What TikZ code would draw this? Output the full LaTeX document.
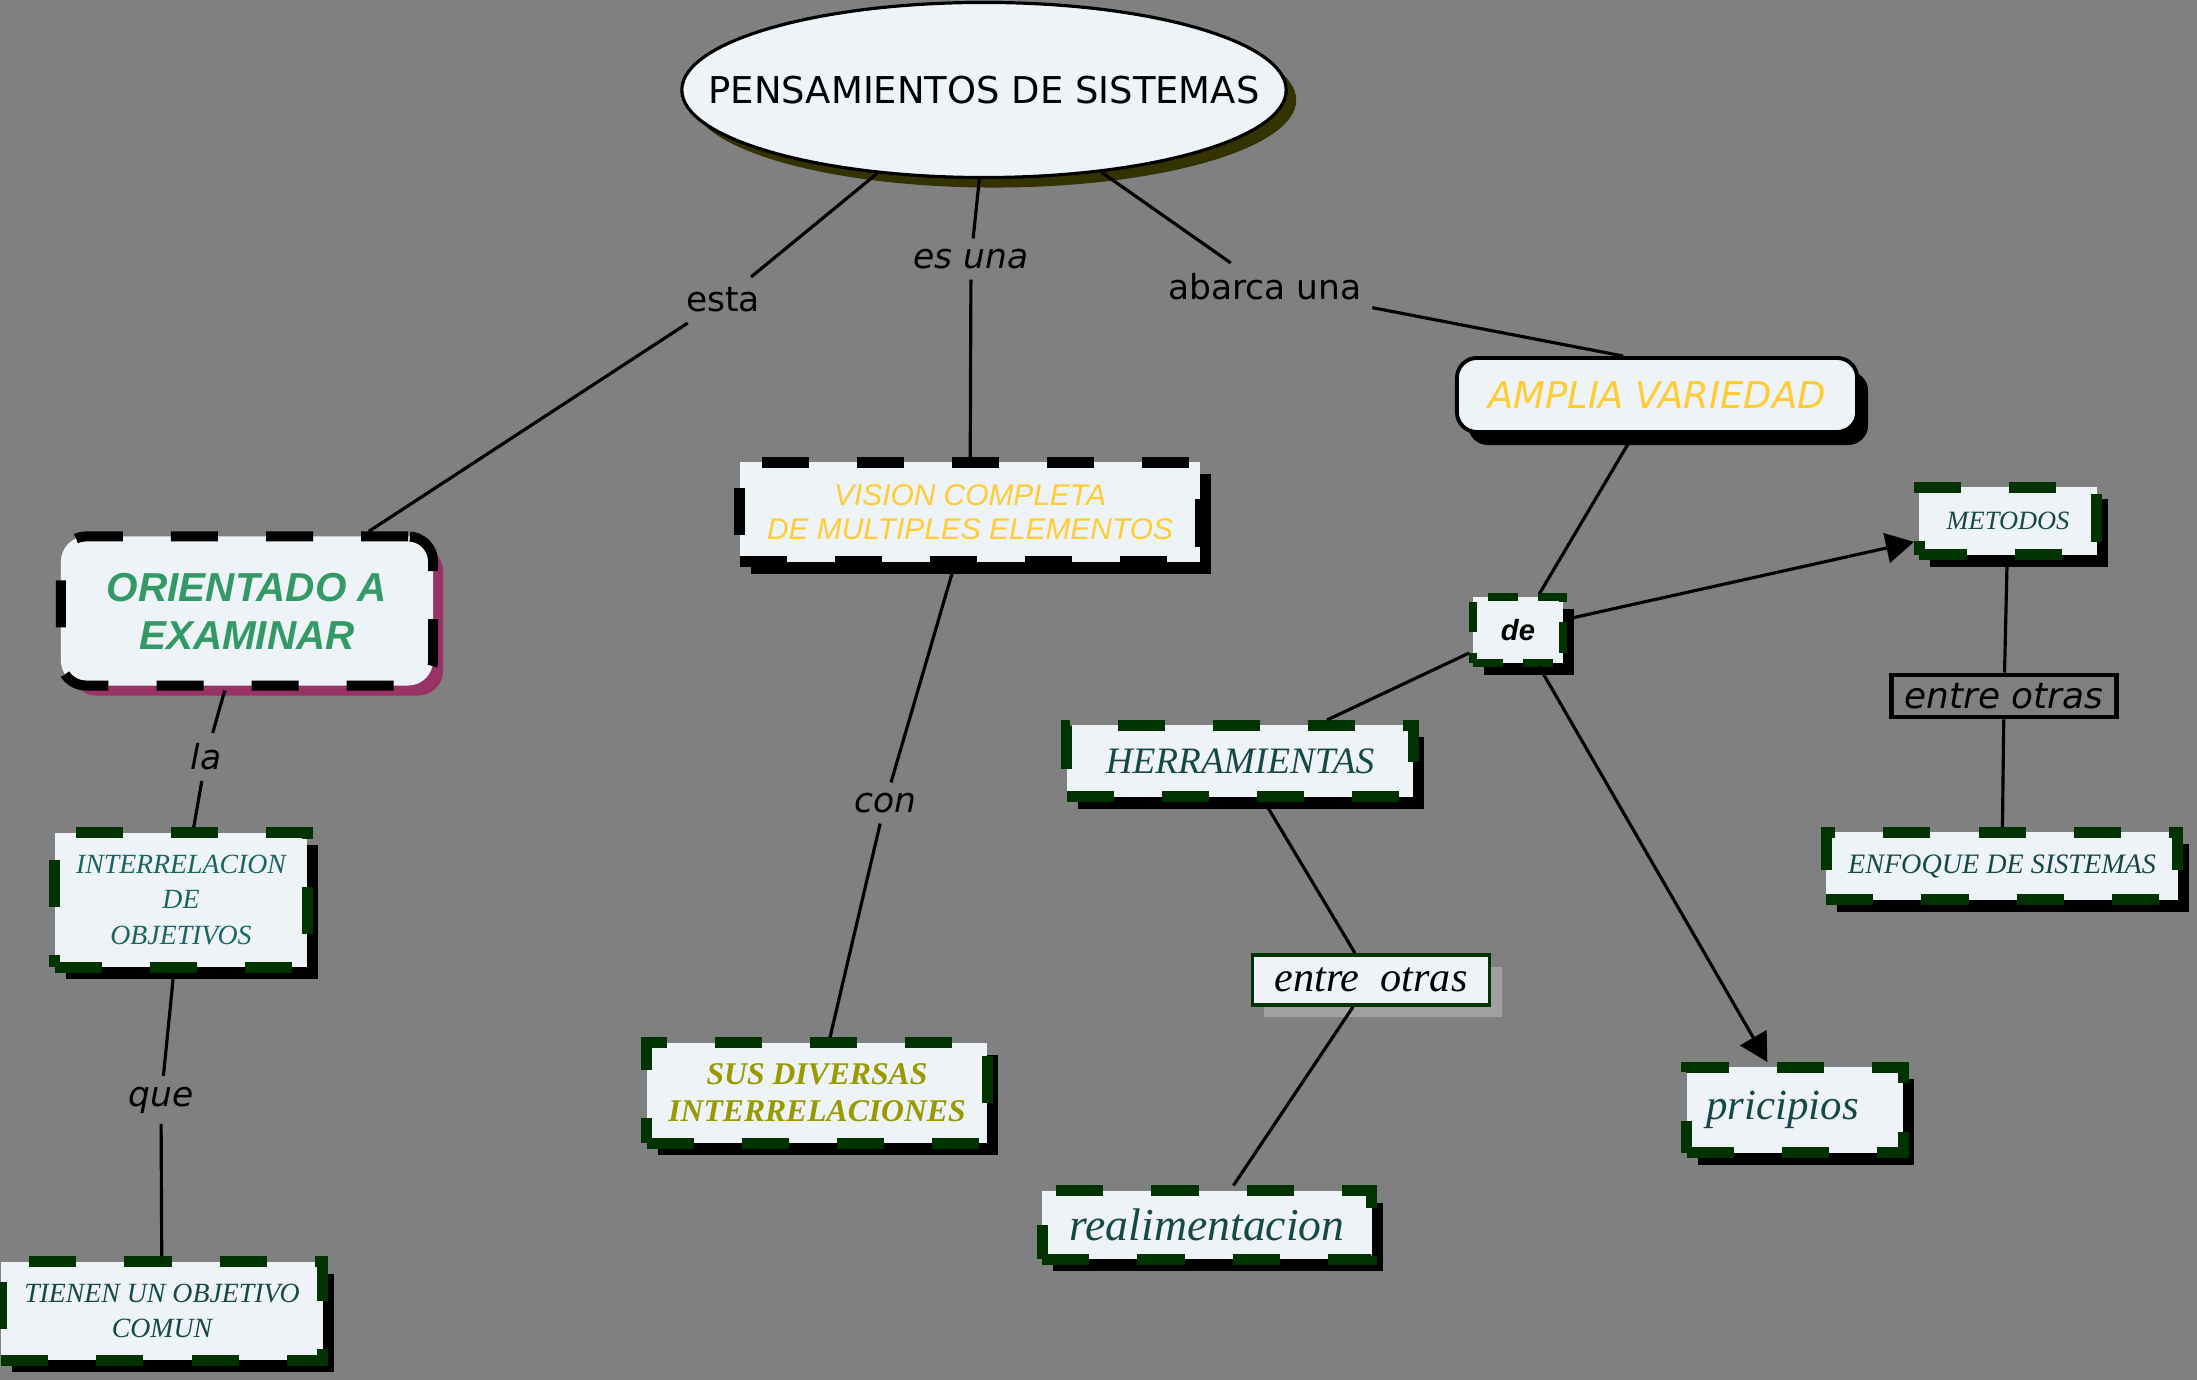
\documentclass[tikz,border=0pt]{standalone}
\usepackage{fontspec}
\setmainfont{DejaVu Sans}
\newfontfamily\arialfont{Liberation Sans}
\newfontfamily\curlyfont{Liberation Serif}
\usetikzlibrary{arrows.meta,shapes.geometric,shadows}

\definecolor{bggray}{RGB}{128,128,128}
\definecolor{boxfill}{RGB}{237,243,246}
\definecolor{darkgreen}{RGB}{0,51,0}
\definecolor{ink}{RGB}{22,72,72}
\definecolor{tealink}{RGB}{28,100,100}
\definecolor{gold}{RGB}{255,204,51}
\definecolor{jade}{RGB}{51,153,102}
\definecolor{plum}{RGB}{153,51,102}
\definecolor{olivetext}{RGB}{153,153,0}
\definecolor{moss}{RGB}{51,51,0}

\begin{document}
\begin{tikzpicture}[x=0.01cm, y=-0.01cm,
  box/.style={fill=boxfill, inner sep=0pt, align=center},
  dashbox/.style={box, draw=darkgreen, line width=0.11cm, dash pattern=on 0.47cm off 0.48cm,
    drop shadow={shadow xshift=0.11cm, shadow yshift=-0.12cm, fill=black, opacity=1}},
  lbl/.style={inner sep=0.1cm, font=\fontsize{9.8}{11}\selectfont},
  ilbl/.style={lbl, font=\itshape\fontsize{9.8}{11}\selectfont},
  link/.style={line width=0.9pt},
  arr/.style={link, -{Triangle[length=0.28cm, width=0.3cm]}}
]
  \fill[bggray] (0,0) rectangle (2197,1380);
  \useasboundingbox (0,0) rectangle (2197,1380);

  % Main concept
  \node[ellipse, draw, line width=0.9pt, fill=boxfill, minimum width=6.04cm, minimum height=1.75cm,
    drop shadow={shadow xshift=0.1cm, shadow yshift=-0.1cm, fill=moss, opacity=1}] at (984,90) (title) {};
  \node[font=\fontsize{10.5}{12}\selectfont] at (title) {PENSAMIENTOS DE SISTEMAS};

  % Left branch
  \node[box, draw=black, line width=0.1cm, dash pattern=on 0.47cm off 0.48cm, rounded corners=0.25cm,
    minimum width=3.72cm, minimum height=1.49cm,
    drop shadow={shadow xshift=0.1cm, shadow yshift=-0.1cm, fill=plum, opacity=1},
    text=jade, font=\arialfont\bfseries\itshape\fontsize{11.5}{13.6}\selectfont] at (247,611) (orient) {ORIENTADO A\\EXAMINAR};
  \node[dashbox, minimum width=2.52cm, minimum height=1.34cm, text=tealink,
    font=\curlyfont\itshape\fontsize{7.9}{10.2}\selectfont] at (181,900) (interrel) {INTERRELACION\\DE\\OBJETIVOS};
  \node[dashbox, minimum width=3.21cm, minimum height=0.98cm, text=ink,
    font=\curlyfont\itshape\fontsize{7.9}{10}\selectfont] at (162,1311) (tienen) {TIENEN UN OBJETIVO\\COMUN};

  % Middle branch
  \node[dashbox, draw=black, minimum width=4.6cm, minimum height=0.99cm, text=gold,
    font=\arialfont\itshape\fontsize{8.5}{9.7}\selectfont] at (970,512) (vision) {VISION COMPLETA\\DE MULTIPLES ELEMENTOS};
  \node[dashbox, minimum width=3.4cm, minimum height=1.0cm, text=olivetext,
    font=\curlyfont\bfseries\itshape\fontsize{9}{10.5}\selectfont] at (817,1093) (sus) {SUS DIVERSAS\\INTERRELACIONES};

  % Right branch
  \node[box, draw=black, line width=1.1pt, rounded corners=0.2cm, minimum width=4.0cm, minimum height=0.74cm,
    drop shadow={shadow xshift=0.11cm, shadow yshift=-0.13cm, fill=black, opacity=1},
    text=gold, font=\itshape\fontsize{10.5}{12}\selectfont] at (1657,395) (ampl) {AMPLIA VARIEDAD};
  \node[dashbox, line width=0.08cm, dash pattern=on 0.3cm off 0.2cm, minimum width=0.9cm, minimum height=0.65cm,
    font=\arialfont\bfseries\itshape\fontsize{8.3}{10}\selectfont] at (1518,630) (de) {de};
  \node[dashbox, minimum width=3.46cm, minimum height=0.71cm, text=ink,
    font=\curlyfont\itshape\fontsize{10.6}{12}\selectfont] at (1240,761) (herr) {HERRAMIENTAS};
  \node[box, draw=darkgreen, line width=1pt, minimum width=2.37cm, minimum height=0.5cm,
    drop shadow={shadow xshift=0.12cm, shadow yshift=-0.12cm, fill=bggray!75!white, opacity=1},
    font=\curlyfont\itshape\fontsize{12}{13}\selectfont] at (1371,980) (entre1) {entre\ \ otras};
  \node[dashbox, minimum width=3.29cm, minimum height=0.68cm, text=ink,
    font=\curlyfont\itshape\fontsize{13}{14}\selectfont] at (1207,1225) (realim) {realimentacion};
  \node[dashbox, minimum width=2.16cm, minimum height=0.85cm, text=ink,
    font=\curlyfont\itshape\fontsize{12.2}{13}\selectfont] at (1795,1110) (prici) {pricipios\hspace{0.25cm}};
  \node[dashbox, minimum width=1.77cm, minimum height=0.67cm, text=ink,
    font=\curlyfont\itshape\fontsize{7.5}{9}\selectfont] at (2008,521) (metod) {METODOS};
  \node[draw=black, line width=1.4pt, inner sep=0pt, minimum width=2.25cm, minimum height=0.42cm,
    font=\itshape\fontsize{10.2}{11}\selectfont] at (2004,696) (entre2) {entre otras};
  \node[dashbox, minimum width=3.51cm, minimum height=0.67cm, text=ink,
    font=\curlyfont\itshape\fontsize{8}{9}\selectfont] at (2002,866) (enfoq) {ENFOQUE DE SISTEMAS};

  % Linking phrases
  \node[lbl] at (723,300) (esta) {esta};
  \node[ilbl] at (971,259) (esuna) {es una};
  \node[lbl] at (1265,287) (abarca) {abarca una};
  \node[ilbl] at (206,757) (la) {la};
  \node[ilbl] at (161,1100) (que) {que};
  \node[ilbl] at (885,803) (con) {con};

  % Connectors
  \draw[link] (title.218) -- (esta);
  \draw[link] (esta) -- (orient);
  \draw[link] (title.267) -- (esuna);
  \draw[link] (esuna) -- (vision);
  \draw[link] (title.325) -- (abarca);
  \draw[link] (abarca) -- (ampl.131);
  \draw[link] (orient) -- (la);
  \draw[link] (la) -- (interrel);
  \draw[link] (interrel) -- (que);
  \draw[link] (que) -- (tienen);
  \draw[link] (vision) -- (con);
  \draw[link] (con) -- (sus);
  \draw[link] (ampl) -- (de);
  \draw[arr] (de) -- (metod);
  \draw[link] (de) -- (herr);
  \draw[arr] (de) -- (prici);
  \draw[link] (herr) -- (entre1);
  \draw[link] (entre1) -- (realim);
  \draw[link] (metod) -- (entre2);
  \draw[link] (entre2) -- (enfoq);

\end{tikzpicture}
\end{document}
